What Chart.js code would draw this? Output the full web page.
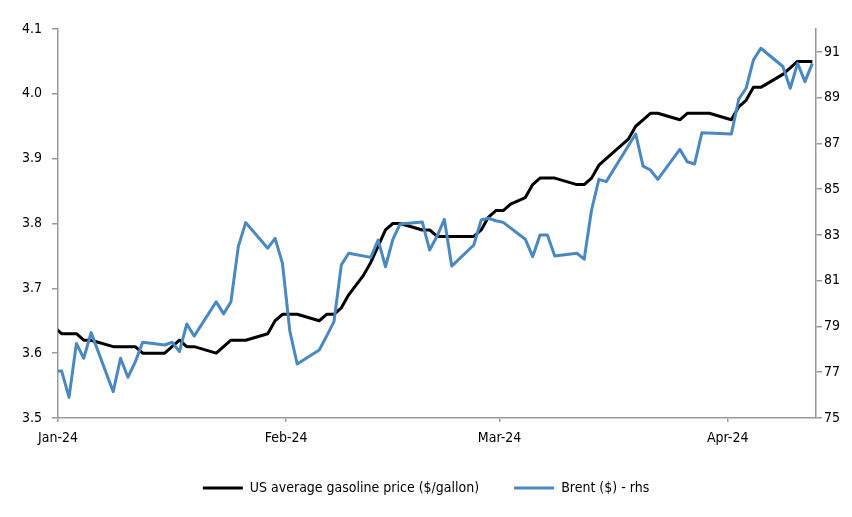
<!DOCTYPE html>
<html>
<head>
<meta charset="utf-8">
<script src="https://cdn.jsdelivr.net/npm/chart.js@4.4.1/dist/chart.umd.min.js"></script>
<style>
	html, body { margin: 0; padding: 0; background: #fff; }
</style>
</head>
<body>
<canvas id="chart" width="852" height="517"></canvas>
<script>
// US gasoline vs Brent, Jan-Apr 2024

const gasDates = [
	'2023-12-31', '2024-01-01', '2024-01-03', '2024-01-04', '2024-01-05', '2024-01-08', '2024-01-11',
	'2024-01-12', '2024-01-15', '2024-01-16', '2024-01-17', '2024-01-18', '2024-01-19', '2024-01-22',
	'2024-01-24', '2024-01-26', '2024-01-29', '2024-01-30', '2024-01-31', '2024-02-02', '2024-02-05',
	'2024-02-06', '2024-02-07', '2024-02-08', '2024-02-09', '2024-02-10', '2024-02-11', '2024-02-12',
	'2024-02-13', '2024-02-14', '2024-02-15', '2024-02-16', '2024-02-19', '2024-02-20', '2024-02-21',
	'2024-02-26', '2024-02-27', '2024-02-28', '2024-02-29', '2024-03-01', '2024-03-02', '2024-03-04',
	'2024-03-05', '2024-03-06', '2024-03-08', '2024-03-11', '2024-03-12', '2024-03-13', '2024-03-14',
	'2024-03-15', '2024-03-16', '2024-03-18', '2024-03-19', '2024-03-20', '2024-03-21', '2024-03-22',
	'2024-03-25', '2024-03-26', '2024-03-29', '2024-04-01', '2024-04-02', '2024-04-03', '2024-04-04',
	'2024-04-05', '2024-04-08', '2024-04-10', '2024-04-12'
];
const gasPrices = [
	3.64, 3.63, 3.63, 3.62, 3.62, 3.61, 3.61,
	3.60, 3.60, 3.61, 3.62, 3.61, 3.61, 3.60,
	3.62, 3.62, 3.63, 3.65, 3.66, 3.66, 3.65,
	3.66, 3.66, 3.67, 3.69, 3.705, 3.72, 3.74,
	3.765, 3.79, 3.80, 3.80, 3.79, 3.79, 3.78,
	3.78, 3.79, 3.81, 3.82, 3.82, 3.83, 3.84,
	3.86, 3.87, 3.87, 3.86, 3.86, 3.87, 3.89,
	3.90, 3.91, 3.93, 3.95, 3.96, 3.97, 3.97,
	3.96, 3.97, 3.97, 3.96, 3.98, 3.99, 4.01,
	4.01, 4.03, 4.05, 4.05
];

const brentDates = [
	'2023-12-31', '2024-01-01', '2024-01-02', '2024-01-03', '2024-01-04', '2024-01-05', '2024-01-08',
	'2024-01-09', '2024-01-10', '2024-01-11', '2024-01-12', '2024-01-15', '2024-01-16', '2024-01-17',
	'2024-01-18', '2024-01-19', '2024-01-22', '2024-01-23', '2024-01-24', '2024-01-25', '2024-01-26',
	'2024-01-29', '2024-01-30', '2024-01-31', '2024-02-01', '2024-02-02', '2024-02-05', '2024-02-06',
	'2024-02-07', '2024-02-08', '2024-02-09', '2024-02-12', '2024-02-13', '2024-02-14', '2024-02-15',
	'2024-02-16', '2024-02-19', '2024-02-20', '2024-02-21', '2024-02-22', '2024-02-23', '2024-02-26',
	'2024-02-27', '2024-02-28', '2024-02-29', '2024-03-01', '2024-03-04', '2024-03-05', '2024-03-06',
	'2024-03-07', '2024-03-08', '2024-03-11', '2024-03-12', '2024-03-13', '2024-03-14', '2024-03-15',
	'2024-03-18', '2024-03-19', '2024-03-20', '2024-03-21', '2024-03-22', '2024-03-25', '2024-03-26',
	'2024-03-27', '2024-03-28', '2024-04-01', '2024-04-02', '2024-04-03', '2024-04-04', '2024-04-05',
	'2024-04-08', '2024-04-09', '2024-04-10', '2024-04-11', '2024-04-12'
];
const brentPrices = [
	77.05, 77.05, 75.90, 78.26, 77.61, 78.73, 76.15,
	77.61, 76.78, 77.45, 78.31, 78.19, 78.31, 77.90,
	79.11, 78.58, 80.08, 79.55, 80.08, 82.49, 83.54,
	82.42, 82.85, 81.76, 78.80, 77.36, 77.97, 78.58,
	79.21, 81.69, 82.20, 82.02, 82.78, 81.61, 82.81,
	83.48, 83.57, 82.34, 82.94, 83.68, 81.64, 82.56,
	83.65, 83.73, 83.62, 83.55, 82.81, 82.05, 83.00,
	83.00, 82.08, 82.20, 81.94, 84.09, 85.43, 85.33,
	86.90, 87.41, 86.01, 85.84, 85.43, 86.74, 86.20,
	86.10, 87.47, 87.41, 88.93, 89.41, 90.65, 91.16,
	90.36, 89.41, 90.50, 89.70, 90.50
];

const monthTicks = ['2024-01-01', '2024-02-01', '2024-03-01', '2024-04-01'];
const monthLabels = ['Jan-24', 'Feb-24', 'Mar-24', 'Apr-24'];
const lhsTicks = [3.5, 3.6, 3.7, 3.8, 3.9, 4.0, 4.1];
const rhsTicks = [75, 77, 79, 81, 83, 85, 87, 89, 91];

const FONT = '"Liberation Sans Narrow", "Arial Narrow", "DejaVu Sans Condensed", "Liberation Sans", sans-serif';
const AXIS_GREY = '#9a9a9a';
const BLUE = '#4a88c2';

// days since 1 Jan 2024
function dayIndex(s) {
	const [y, m, d] = s.split('-').map(Number);
	return (Date.UTC(y, m - 1, d) - Date.UTC(2024, 0, 1)) / 86400000;
}
// each day is plotted in the middle of its slot
const toPoints = (dates, vals) => dates.map((d, i) => ({ x: dayIndex(d) + 0.5, y: vals[i] }));

const tickFont = { family: FONT, size: 14 };

new Chart(document.getElementById('chart'), {
	type: 'line',
	data: {
		datasets: [
			{
				label: 'US average gasoline price ($/gallon)',
				data: toPoints(gasDates, gasPrices),
				borderColor: '#000',
				backgroundColor: '#000',
				borderWidth: 3,
				yAxisID: 'y',
				order: 1
			},
			{
				label: 'Brent ($) - rhs',
				data: toPoints(brentDates, brentPrices),
				borderColor: BLUE,
				backgroundColor: BLUE,
				borderWidth: 3,
				yAxisID: 'y1',
				order: 0
			}
		]
	},
	options: {
		responsive: false,
		animation: false,
		parsing: false,
		elements: {
			point: { radius: 0 },
			line: { tension: 0, borderJoinStyle: 'round' }
		},
		layout: { padding: { top: 29, left: 0, right: 0, bottom: 12 } },
		scales: {
			x: {
				type: 'linear',
				min: 0,
				max: 103,
				afterBuildTicks: axis => { axis.ticks = monthTicks.map(d => ({ value: dayIndex(d) })); },
				afterFit: axis => { axis.height = 28; },
				ticks: {
					font: tickFont,
					color: '#000',
					padding: 8,
					maxRotation: 0,
					autoSkip: false,
					callback: (v, i) => monthLabels[i]
				},
				grid: { drawOnChartArea: false, drawTicks: true, tickLength: 4, color: AXIS_GREY, lineWidth: 1.5 },
				border: { display: true, color: AXIS_GREY, width: 1.5 }
			},
			y: {
				position: 'left',
				min: 3.5,
				max: 4.1,
				afterBuildTicks: axis => { axis.ticks = lhsTicks.map(v => ({ value: v })); },
				afterFit: axis => { axis.width = 58; },
				ticks: { font: tickFont, color: '#000', padding: 10, callback: v => v.toFixed(1) },
				grid: { drawOnChartArea: false, drawTicks: true, tickLength: 6, color: AXIS_GREY, lineWidth: 1.5 },
				border: { display: true, color: AXIS_GREY, width: 1.5 }
			},
			y1: {
				position: 'right',
				min: 75,
				max: 92,
				afterBuildTicks: axis => { axis.ticks = rhsTicks.map(v => ({ value: v })); },
				afterFit: axis => { axis.width = 36; },
				ticks: { font: tickFont, color: '#000', padding: 2, callback: v => String(v) },
				grid: { drawOnChartArea: false, drawTicks: true, tickLength: 6, color: AXIS_GREY, lineWidth: 1.5 },
				border: { display: true, color: AXIS_GREY, width: 1.5 }
			}
		},
		plugins: {
			tooltip: { enabled: false },
			legend: {
				position: 'bottom',
				labels: {
					font: tickFont,
					color: '#000',
					boxWidth: 40,
					boxHeight: 3,
					padding: 35,
					sort: (a, b) => a.datasetIndex - b.datasetIndex,
					generateLabels: chart => Chart.defaults.plugins.legend.labels.generateLabels(chart)
						.map(l => ({ ...l, lineWidth: 0 }))
				}
			}
		}
	}
});
</script>
</body>
</html>
